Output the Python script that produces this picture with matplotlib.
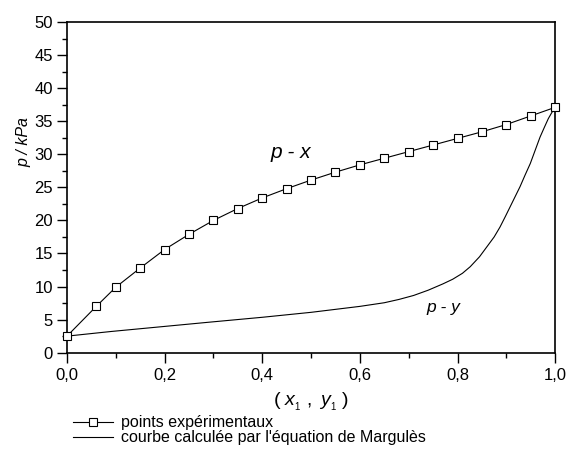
import matplotlib
matplotlib.use("Agg")
import matplotlib.pyplot as plt
from matplotlib.ticker import MultipleLocator, FuncFormatter

plt.rcParams["font.family"] = "Liberation Sans"
plt.rcParams["mathtext.fontset"] = "custom"
plt.rcParams["mathtext.rm"] = "Liberation Sans"
plt.rcParams["mathtext.it"] = "Liberation Sans:italic"

# experimental bubble points (liquid composition x1, pressure kPa)
x_exp = [0.0, 0.06, 0.10, 0.15, 0.20, 0.25, 0.30, 0.35, 0.40, 0.45, 0.50,
         0.55, 0.60, 0.65, 0.70, 0.75, 0.80, 0.85, 0.90, 0.95, 1.0]
p_exp = [2.5, 7.0, 9.9, 12.8, 15.6, 17.9, 20.0, 21.8, 23.4, 24.8, 26.1,
         27.3, 28.4, 29.4, 30.4, 31.4, 32.4, 33.4, 34.5, 35.8, 37.1]

# dew curve from the Margules model (vapour composition y1, pressure kPa)
y_calc = [0.0, 0.09, 0.19, 0.29, 0.40, 0.50, 0.60, 0.65, 0.68, 0.71, 0.74,
          0.77, 0.79, 0.81, 0.826, 0.845, 0.86, 0.875, 0.887, 0.898, 0.908,
          0.918, 0.928, 0.938, 0.949, 0.959, 0.969, 0.978, 0.986, 0.993, 1.0]
p_calc = [2.5, 3.2, 3.9, 4.6, 5.35, 6.1, 7.0, 7.55, 8.05, 8.65, 9.45,
          10.4, 11.1, 12.0, 13.0, 14.5, 16.0, 17.5, 19.0, 20.6, 22.1,
          23.6, 25.1, 26.8, 28.6, 30.6, 32.6, 34.1, 35.4, 36.3, 37.1]

fig = plt.figure(figsize=(5.7, 4.54), dpi=100)
ax = fig.add_axes([0.1175, 0.2232, 0.8565, 0.7283])

ax.plot(x_exp, p_exp, color="black", lw=0.8, marker="s", ms=5.2,
        mfc="white", mec="black", mew=0.8, clip_on=False, zorder=3,
        label="points expérimentaux")
ax.plot(y_calc, p_calc, color="black", lw=0.8, clip_on=False,
        label="courbe calculée par l'équation de Margulès")

ax.text(0.459, 30.2, "p - x", style="italic", fontsize=15,
        ha="center", va="center")
ax.text(0.771, 6.8, "p - y", style="italic", fontsize=12.5,
        ha="center", va="center")

ax.set_xlim(0, 1)
ax.set_ylim(0, 50)
ax.xaxis.set_major_locator(MultipleLocator(0.2))
ax.xaxis.set_minor_locator(MultipleLocator(0.1))
ax.yaxis.set_major_locator(MultipleLocator(5))
ax.yaxis.set_minor_locator(MultipleLocator(2.5))
ax.xaxis.set_major_formatter(FuncFormatter(lambda v, _: f"{v:.1f}".replace(".", ",")))

ax.tick_params(which="major", direction="out", length=7, width=1.0,
               labelsize=12, pad=3)
ax.tick_params(axis="x", which="major", pad=4)
ax.tick_params(which="minor", direction="out", length=3.5, width=1.0)
for s in ax.spines.values():
    s.set_linewidth(1.2)

ax.set_ylabel("p / kPa", style="italic", fontsize=11.5)
ax.yaxis.set_label_coords(-0.072, 0.637)
ax.set_xlabel(r"$(\ x_{_1}\ ,\ y_{_1}\ )$", fontsize=14, labelpad=6)

ax.legend(loc="upper left", bbox_to_anchor=(0.012, -0.19), frameon=False,
          fontsize=11.5, handlelength=2.5, handletextpad=0.5,
          labelspacing=0.0, borderaxespad=0, borderpad=0.0)

fig.savefig("out.png", dpi=100)
